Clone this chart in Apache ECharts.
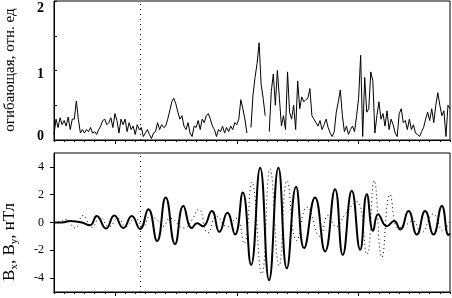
<!DOCTYPE html>
<html><head><meta charset="utf-8">
<script src="https://cdn.jsdelivr.net/npm/echarts@6/dist/echarts.min.js"></script>
<style>html,body{margin:0;padding:0;background:#fff}#c{width:452px;height:298px}</style>
</head><body><div id="c"></div>
<script>
// ---- data ----
// envelope: samples every 0.2 time units starting at -6
const envStart = -6, envStep = 0.2;
const envValues = [
 0.08,0.3,0.18,0.32,0.22, 0.28,0.2,0.33,0.15,0.3, 0.3,0.56,0.3,0.1,0.15, 0.1,0.15,0.12,0.18,0.1,
 0.12,0.08,0.15,0.2,0.28, 0.3,0.22,0.25,0.32,0.18, 0.38,0.28,0.1,0.3,0.22, 0.3,0.12,0.25,0.15,0.2,
 0.08,0.22,0.15,0.18,0.05, 0.1,0.15,0.08,0.02,0.1, 0.12,0.25,0.15,0.22,0.18, 0.2,0.3,0.42,0.55,0.6,
 0.52,0.4,0.3,0.35,0.2, 0.15,0.25,0.1,0.05,0.2, 0.18,0.28,0.15,0.3,0.25, 0.35,0.38,0.3,0.2,0.15,
 0.05,0.15,0.12,0.2,0.1, 0.18,0.12,0.2,0.15,0.25, 0.22,0.3,0.58,0.45,0.3, 0.1,null,0.18,0.65,0.9,
 1.1,1.4,0.8,0.6,0.35, null,0.12,0.7,0.95,0.5, 1.0,0.6,0.2,0.35,0.15, 0.98,0.4,0.3,0.5,0.15,
 0.85,0.45,0.62,0.55,0.58, 0.6,0.74,0.35,0.3,0.25, 0.2,0.28,0.15,0.22,0.3, 0.18,0.1,0.05,0.12,0.4,
 0.55,0.72,0.35,0.12,0.2, 0.08,0.15,0.2,0.12,0.35, 0.6,1.22,0.05,0.9,0.4, 0.45,0.98,0.85,0.1,0.35,
 0.55,0.3,0.38,0.2,0.42, 0.15,0.3,0.22,0.1,0.05, 0.38,0.45,0.25,0.28,0.15, 0.3,0.15,0.22,0.1,0.08,
 0.05,0.12,0.18,0.3,0.4, 0.28,0.45,0.25,0.5,0.68, 0.5,0.35,0.42,0.05,0.5, 0.45
];
// Bx (solid)
const bxTime = [-6,-5.21,-4.42,-3.83,-3.24,-2.45,-1.79,-0.88,-0.06,0.83,1.66,2.47,3.29,4.15,5.0,5.92,6.74,7.57,8.09,8.68,9.54,10.29,11.07,11.83,12.59,13.41,14.3,15.18,16.1,16.93,17.84,18.63,19.71,20.7,21.68,22.44,23.33,24.15,24.81,25.43,25.92,26.78,27.5,28.09,28.91,29.73,30.55,31.37,32.2,32.85,33];
const bxVal  = [0,0,0.1,0.08,0,-0.2,0.46,-0.44,0.5,-0.4,0.46,-0.46,0.95,-1.33,1.8,-1.55,1.19,-0.4,-0.05,-0.27,0.82,-0.68,0.7,-0.87,2.16,-3.05,3.93,-4.15,3.93,-3.3,2.57,-1.84,1.8,-2.08,2.4,-2.33,2.28,-1.96,2.04,-0.6,0.6,-0.27,0.1,-0.5,0.82,-0.87,0.82,-0.87,1.19,-0.9,-0.8];
// By (dotted)
const byTime = [-6,-5.41,-4.82,-3.93,-3.14,-2.26,-1.47,-0.58,0.31,1.09,1.98,2.77,3.46,4.15,4.74,5.43,6.81,7.6,8.24,9.17,10.03,11.04,11.93,12.72,13.48,14.46,15.28,16.17,16.96,17.91,18.93,20.21,21.0,21.78,22.67,23.82,24.81,25.53,26.29,27.1,27.89,28.58,29.37,30.16,31.34,32.33,33];
const byVal  = [0,0.05,0.2,-0.4,0.5,-0.35,0.35,-0.3,0.3,-0.3,0.35,-0.3,0.45,0.2,-0.27,0.3,-0.4,0.2,0.95,-0.75,0.46,-0.3,0.3,-1.5,2.9,-3.7,3.85,-3.1,3.0,-1.3,1.1,-1.0,0.5,-0.3,0.6,1.5,-2.3,3.0,-2.5,2.0,-0.4,-0.2,0.1,-0.75,0.6,-0.6,0.2];
const markerTime = 2.5;
const topTickValues = [0,0.5,1,1.5,2];
const topLabelValues = [0,1,2];
const botTickValues = [-4,-2,0,2,4];
const xMajorTicks = [0,12,24];
const xMinorTicks = [];
for (let t = -6; t <= 33; t++) xMinorTicks.push(t);
const topTitle = 'огибающая, отн. ед';

// ---- chart ----
const FONT = 'Liberation Serif';
const envData = envValues.map((v,i)=>[+(envStart+i*envStep).toFixed(2), v]);
const bxData = bxTime.map((t,i)=>[t,bxVal[i]]);
const byData = byTime.map((t,i)=>[t,byVal[i]]);
const chart = echarts.init(document.getElementById('c'), null, {renderer:'canvas'});
const grids = [
  {left:54, top:1, width:396, height:139, show:true, borderColor:'#000', borderWidth:1},
  {left:54, top:153, width:396, height:139, show:true, borderColor:'#000', borderWidth:1}
];
function xAx(g, ticks, len){
  return {type:'value', gridIndex:g, min:-6, max:33, position:'bottom',
    axisLine:{show:true, onZero:false, lineStyle:{color:'#000',width:1}},
    axisTick:{show:true, customValues:ticks, length:len, inside:false, lineStyle:{color:'#000',width:1}},
    axisLabel:{show:false}, splitLine:{show:false}};
}
const topLabelPad = {0:[0,0,8,0], 1:[7,0,0,0], 2:[14,0,0,0]};
chart.setOption({
  animation:false,
  backgroundColor:'#fff',
  grid:grids,
  xAxis:[xAx(0,xMinorTicks,2), xAx(0,xMajorTicks,4), xAx(1,xMinorTicks,2), xAx(1,xMajorTicks,4)],
  yAxis:[
    {type:'value', gridIndex:0, min:0, max:2, position:'left',
     axisLine:{show:true, onZero:false, lineStyle:{color:'#000'}},
     axisTick:{show:true, inside:true, length:3, customValues:topTickValues, lineStyle:{color:'#000'}},
     axisLabel:{customValues:topLabelValues, margin:10, color:'#000', fontFamily:FONT, fontSize:14, fontWeight:'bold',
       formatter:function(v){ return '{p'+v+'|'+v+'}'; },
       rich:{p0:{padding:topLabelPad[0], fontFamily:FONT,fontSize:14,fontWeight:'bold',color:'#000'},
             p1:{padding:topLabelPad[1], fontFamily:FONT,fontSize:14,fontWeight:'bold',color:'#000'},
             p2:{padding:topLabelPad[2], fontFamily:FONT,fontSize:14,fontWeight:'bold',color:'#000'}}},
     splitLine:{show:false}},
    {type:'value', gridIndex:1, min:-5, max:5, position:'left',
     axisLine:{show:true, onZero:false, lineStyle:{color:'#000'}},
     axisTick:{show:true, inside:false, length:4, customValues:botTickValues, lineStyle:{color:'#000'}},
     axisLabel:{customValues:botTickValues, margin:10, color:'#000', fontFamily:FONT, fontSize:12},
     splitLine:{show:false}}
  ],
  graphic:[
    {type:'text', x:10, y:70, rotation:Math.PI/2,
     style:{text:topTitle, fill:'#000', font:'15px "Liberation Serif"', align:'center', verticalAlign:'middle'}},
    {type:'text', x:10, y:242, rotation:Math.PI/2,
     style:{text:'{a|B}{s|x}{a|, B}{s|y}{a|, нТл}', align:'center', verticalAlign:'middle',
       rich:{a:{fontFamily:FONT, fontSize:17, fill:'#000', color:'#000'},
             s:{fontFamily:FONT, fontSize:11, fill:'#000', color:'#000', padding:[8,0,0,0]}}}}
  ],
  series:[
    {type:'line', xAxisIndex:0, yAxisIndex:0, data:envData, showSymbol:false, connectNulls:false,
     lineStyle:{color:'#000', width:1}, silent:true,
     markLine:{silent:true, symbol:['none','none'], label:{show:false},
       lineStyle:{color:'#000', width:1, type:[1,4]}, data:[{xAxis:markerTime}]}},
    {type:'line', xAxisIndex:2, yAxisIndex:1, data:byData, showSymbol:false, smooth:0.5,
     lineStyle:{color:'#000', width:1, type:[1,3]}, silent:true,
     markLine:{silent:true, symbol:['none','none'], label:{show:false},
       lineStyle:{color:'#000', width:1, type:[1,4]}, data:[{xAxis:markerTime}]}},
    {type:'line', xAxisIndex:2, yAxisIndex:1, data:bxData, showSymbol:false, smooth:0.5,
     lineStyle:{color:'#000', width:2}, silent:true}
  ]
});
</script></body></html>
